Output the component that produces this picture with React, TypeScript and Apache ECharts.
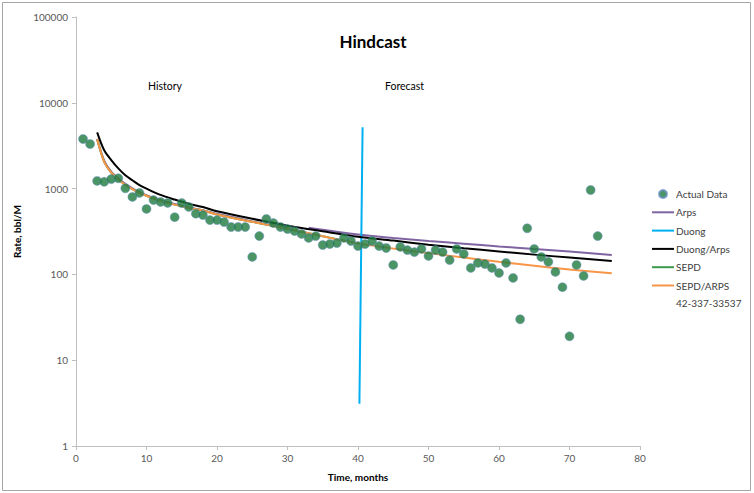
import React, { useEffect, useRef } from "react";
import * as echarts from "echarts";

// Monthly production record (month, bbl/M)
const actualMonths = [
  1, 2, 3, 4, 5, 6, 7, 8, 9, 10, 11, 12, 13, 14, 15, 16, 17, 18, 19, 20, 21, 22, 23, 24, 25,
  26, 27, 28, 29, 30, 31, 32, 33, 34, 35, 36, 37, 38, 39, 40, 41, 42, 43, 44, 45, 46, 47, 48,
  49, 50, 51, 52, 53, 54, 55, 56, 57, 58, 59, 60, 61, 62, 63, 64, 65, 66, 67, 68, 69, 70, 71,
  72, 73, 74,
];
const actualRate = [
  3785, 3310, 1230, 1200, 1290, 1320, 1010, 800, 890, 580, 735, 700, 680, 465, 679, 611, 510,
  492, 430, 430, 408, 357, 357, 357, 160, 280, 443, 397, 357, 338, 320, 296, 266, 280, 220, 226,
  232, 266, 245, 214, 226, 245, 214, 203, 129, 209, 192, 182, 198, 164, 192, 182, 147, 198, 173,
  119, 136, 132, 119, 104, 136, 91, 30, 345, 198, 160, 140, 107, 71, 19, 129, 96, 963, 280,
];

// Decline-curve fits
const fitMonths = [3, 4, 5, 6, 7, 8, 9, 10, 12, 14, 16, 18, 20, 25, 30, 35, 40, 45, 50, 55, 60, 65, 70, 76];
const duongArpsRate = [
  4530, 2800, 2150, 1720, 1430, 1250, 1100, 1000, 845, 745, 665, 610, 545, 445, 370, 318, 275,
  248, 222, 202, 185, 170, 157, 143,
];
const sepdArpsRate = [
  3750, 2050, 1540, 1280, 1110, 985, 895, 825, 720, 650, 595, 555, 500, 410, 340, 278, 230, 200,
  177, 157, 140, 126, 114, 103,
];

const arpsHistMonths = [3, 4, 5, 6, 7, 8, 9, 10, 12, 14, 16, 18, 20, 25, 30];
const arpsHistRate = [3800, 2120, 1580, 1310, 1135, 1005, 912, 840, 733, 662, 605, 560, 508, 415, 345];
const arpsFcstMonths = [33, 40, 45, 50, 55, 60, 65, 70, 76];
const arpsFcstRate = [350, 292, 266, 245, 228, 212, 198, 185, 168];

const sepdMonths = [3, 4, 5, 6, 7, 8, 9, 10, 12, 14, 16, 18, 20, 25, 30, 35, 40];
const sepdRate = [3750, 2050, 1540, 1280, 1110, 985, 895, 825, 720, 650, 595, 555, 500, 410, 340, 278, 230];

// Hindcast cut-off marker
const duongMonths = [40.65, 40.2];
const duongRate = [5200, 3.1];

const xTicks = { min: 0, max: 80, interval: 10 };
const yTicks = { min: 1, max: 100000 };

const wellId = "42-337-33537";

const zip = (xs: number[], ys: number[]) => xs.map((x, i) => [x, ys[i]]);

const FONT = "Lato, 'Open Sans', sans-serif";
const LINE_ICON = "path://M0 0H22V2H0Z";

export default function App() {
  const ref = useRef<HTMLDivElement>(null);

  useEffect(() => {
    const chart = echarts.init(ref.current!, null, { renderer: "svg" });
    chart.setOption({
      animation: false,
      backgroundColor: "#ffffff",
      textStyle: { fontFamily: FONT },
      title: {
        text: "Hindcast",
        left: 368,
        top: 28,
        textAlign: "center",
        textStyle: { fontFamily: FONT, fontSize: 17, fontWeight: "bold", color: "#000" },
      },
      grid: { left: 76, right: 114, top: 17, bottom: 47 },
      xAxis: {
        type: "value",
        min: xTicks.min,
        max: xTicks.max,
        interval: xTicks.interval,
        name: "Time, months",
        nameLocation: "middle",
        nameGap: 26,
        nameTextStyle: { fontFamily: FONT, fontSize: 10, fontWeight: "bold", color: "#000" },
        axisLine: { lineStyle: { color: "#bfbfbf", width: 1 } },
        axisTick: { show: true, length: 4, lineStyle: { color: "#bfbfbf" } },
        axisLabel: { fontFamily: FONT, fontSize: 10, color: "#595959", margin: 7 },
        splitLine: { show: false },
      },
      yAxis: {
        type: "log",
        logBase: 10,
        min: yTicks.min,
        max: yTicks.max,
        name: "Rate, bbl/M",
        nameLocation: "middle",
        nameGap: 48,
        nameTextStyle: { fontFamily: FONT, fontSize: 10, fontWeight: "bold", color: "#000" },
        axisLine: { show: true, lineStyle: { color: "#bfbfbf", width: 1 } },
        axisTick: { show: true, length: 4, lineStyle: { color: "#bfbfbf" } },
        axisLabel: {
          fontFamily: FONT,
          fontSize: 10,
          color: "#595959",
          margin: 8,
          formatter: (v: number) => String(Math.round(v)),
        },
        splitLine: { show: false },
      },
      legend: {
        orient: "vertical",
        left: 647,
        top: 183,
        itemWidth: 22,
        itemHeight: 8,
        itemGap: 6.3,
        textStyle: {
          fontFamily: FONT,
          fontSize: 10,
          color: "#404040",
          lineHeight: 12,
          padding: [0, 0, 0, -3],
        },
        data: [
          { name: "Actual Data", icon: "circle" },
          { name: "Arps", icon: LINE_ICON },
          { name: "Duong", icon: LINE_ICON },
          { name: "Duong/Arps", icon: LINE_ICON },
          { name: "SEPD", icon: LINE_ICON },
          { name: "SEPD/ARPS", icon: LINE_ICON },
        ],
      },
      graphic: [
        {
          type: "rect",
          shape: { x: 2.5, y: 2.5, width: 748, height: 488 },
          style: { fill: "none", stroke: "#a6a6a6", lineWidth: 1 },
          silent: true,
        },
        {
          type: "text",
          left: 148,
          top: 80,
          style: { text: "History", font: `10.5px ${FONT}`, fill: "#000" },
        },
        {
          type: "text",
          left: 385,
          top: 80,
          style: { text: "Forecast", font: `10.5px ${FONT}`, fill: "#000" },
        },
        {
          type: "text",
          left: 676,
          top: 298,
          style: { text: wellId, font: `10px ${FONT}`, fill: "#404040" },
        },
      ],
      series: [
        {
          name: "Arps",
          type: "line",
          data: zip(arpsHistMonths, arpsHistRate),
          symbol: "none",
          smooth: 0.3,
          lineStyle: { color: "#8064A2", width: 2 },
          itemStyle: { color: "#8064A2" },
          z: 2,
        },
        {
          name: "Arps",
          type: "line",
          data: zip(arpsFcstMonths, arpsFcstRate),
          symbol: "none",
          smooth: 0.3,
          lineStyle: { color: "#8064A2", width: 2 },
          itemStyle: { color: "#8064A2" },
          z: 2,
        },
        {
          name: "Duong",
          type: "line",
          data: zip(duongMonths, duongRate),
          symbol: "none",
          lineStyle: { color: "#00B0F0", width: 2 },
          itemStyle: { color: "#00B0F0" },
          z: 3,
        },
        {
          name: "Duong/Arps",
          type: "line",
          data: zip(fitMonths, duongArpsRate),
          symbol: "none",
          smooth: 0.3,
          lineStyle: { color: "#000000", width: 2 },
          itemStyle: { color: "#000000" },
          z: 3,
        },
        {
          name: "SEPD",
          type: "line",
          data: zip(sepdMonths, sepdRate),
          symbol: "none",
          smooth: 0.3,
          lineStyle: { color: "#3C9A4B", width: 2 },
          itemStyle: { color: "#3C9A4B" },
          z: 3,
        },
        {
          name: "SEPD/ARPS",
          type: "line",
          data: zip(fitMonths, sepdArpsRate),
          symbol: "none",
          smooth: 0.3,
          lineStyle: { color: "#F79646", width: 2 },
          itemStyle: { color: "#F79646" },
          z: 4,
        },
        {
          name: "Actual Data",
          type: "scatter",
          data: zip(actualMonths, actualRate),
          symbol: "circle",
          symbolSize: 9,
          itemStyle: { color: "#1E7A3E", borderColor: "#6C8FC4", borderWidth: 0.6 },
          z: 5,
        },
      ],
    });
    return () => chart.dispose();
  }, []);

  return (
    <div
      ref={ref}
      style={{ position: "absolute", left: 0, top: 0, width: 754, height: 493, background: "#fff" }}
    />
  );
}
